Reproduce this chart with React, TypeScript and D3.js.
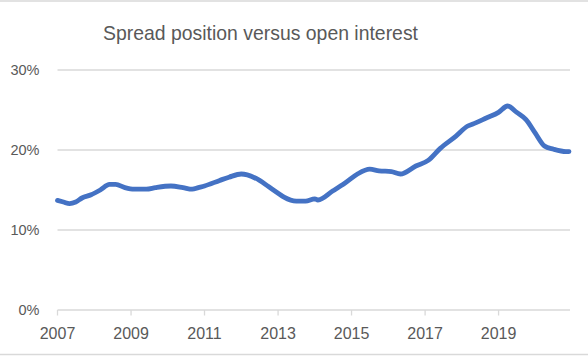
import React from "react";
import * as d3 from "d3";

const title = "Spread position versus open interest";
const dates = [
  "2007-01","2007-03","2007-05","2007-07","2007-09","2007-12","2008-03","2008-06","2008-08","2008-11",
  "2009-02","2009-06","2009-09","2010-02","2010-06","2010-09","2010-11","2011-01","2011-06","2011-09",
  "2012-01","2012-03","2012-07","2012-10","2013-01","2013-03","2013-07","2013-10","2014-01","2014-02",
  "2014-07","2014-11","2015-03","2015-07","2015-10","2016-02","2016-05","2016-10","2017-02","2017-06",
  "2017-11","2018-03","2018-05","2018-09","2019-01","2019-04","2019-07","2019-10","2020-01","2020-04",
  "2020-07","2020-11","2020-12",
];
const values = [
  13.7,13.5,13.3,13.5,14.0,14.4,15.0,15.7,15.7,15.3,
  15.1,15.1,15.3,15.5,15.3,15.1,15.3,15.5,16.2,16.6,
  17.0,16.9,16.2,15.4,14.6,14.1,13.6,13.6,13.9,13.75,
  14.9,15.9,17.0,17.6,17.4,17.3,17.0,18.0,18.7,20.2,
  21.7,23.0,23.3,24.0,24.7,25.5,24.7,23.8,22.1,20.5,
  20.1,19.8,19.8,
];
const yTicks = [0, 10, 20, 30];
const xTickYears = [2007, 2009, 2011, 2013, 2015, 2017, 2019];

export default function App() {
  const W = 588, H = 356;
  const parse = d3.timeParse("%Y-%m");
  const data = dates.map((d, i) => ({ date: parse(d) as Date, value: values[i] }));
  const x = d3.scaleTime().domain([new Date(2007, 0, 1), new Date(2020, 11, 1)]).range([57.5, 569]);
  const y = d3.scaleLinear().domain([0, 30]).range([310, 70]);
  const line = d3.line<{ date: Date; value: number }>()
    .x(d => x(d.date))
    .y(d => y(d.value))
    .curve(d3.curveMonotoneX);
  const textColor = "#595959";
  const grid = "#d9d9d9";
  return (
    <div style={{ position: "fixed", left: 0, top: 0 }}>
      <svg width={W} height={H} style={{ display: "block" }} fontFamily="'Liberation Sans', Arial, sans-serif">
        <rect x={0} y={0} width={W} height={H} fill="#fff" />
        <line x1={0} x2={W} y1={1} y2={1} stroke={grid} strokeWidth={1.5} />
        <line x1={0} x2={W} y1={354.5} y2={354.5} stroke={grid} strokeWidth={1.5} />
        <text x={103} y={39.5} fontSize={21} fill={textColor} textLength={315} lengthAdjust="spacingAndGlyphs">{title}</text>
        {yTicks.map(t => (
          <g key={t}>
            <line x1={57.5} x2={570} y1={y(t)} y2={y(t)} stroke={grid} strokeWidth={1.3} />
            <text x={39.5} y={y(t) + 5} textAnchor="end" fontSize={14.5} fill={textColor}>{t}%</text>
          </g>
        ))}
        {xTickYears.map(yr => {
          const xx = x(new Date(yr, 0, 1));
          return (
            <g key={yr}>
              <line x1={xx} x2={xx} y1={310} y2={315.5} stroke={grid} strokeWidth={1.3} />
              <text x={xx} y={339.3} textAnchor="middle" fontSize={16} fill={textColor}>{yr}</text>
            </g>
          );
        })}
        <path d={line(data) || ""} fill="none" stroke="#4472C4" strokeWidth={4.8} strokeLinejoin="round" strokeLinecap="round" />
      </svg>
    </div>
  );
}
